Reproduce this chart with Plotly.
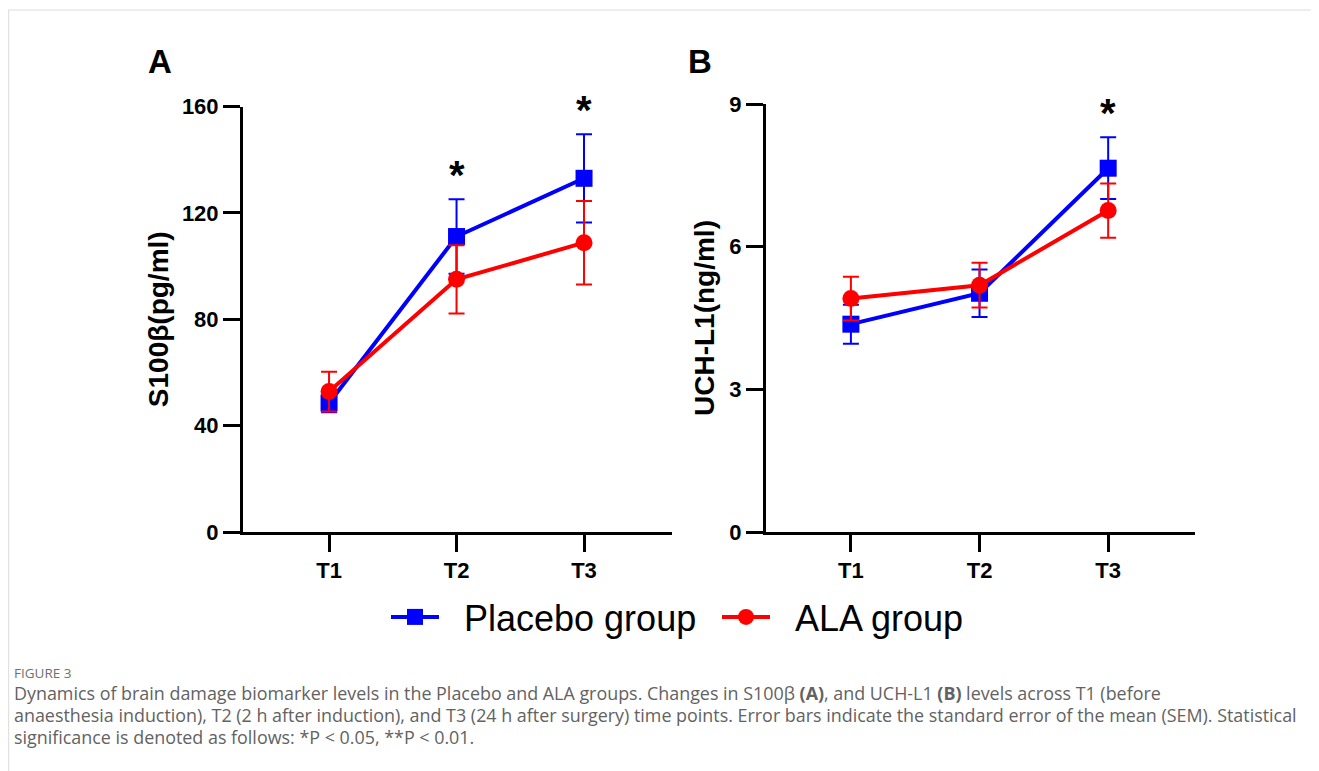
import plotly.graph_objects as go

# ---------------- data ----------------
timepoints = ["T1", "T2", "T3"]

# Panel A: S100β (pg/ml)
s100_placebo = [48.5, 111.1, 133.0]
s100_placebo_sem = [3.5, 14.0, 16.6]
s100_ala = [52.8, 95.0, 108.8]
s100_ala_sem = [7.5, 12.8, 15.7]
s100_sig = [None, "*", "*"]

# Panel B: UCH-L1 (ng/ml)
uch_placebo = [4.37, 5.02, 7.65]
uch_placebo_sem = [0.41, 0.50, 0.65]
uch_ala = [4.91, 5.19, 6.76]
uch_ala_sem = [0.46, 0.47, 0.57]
uch_sig = [None, None, "*"]

y_ticks_a = [0, 40, 80, 120, 160]
y_ticks_b = [0, 3, 6, 9]

series_names = ["Placebo group", "ALA group"]
BLUE = "#0000FF"
RED = "#FF0000"

# page is 1319x771 with an 8px body margin around the figure
OFF = 8
W, H = 1319 - OFF, 771 - OFF
FONT = "Arial, Liberation Sans, sans-serif"


def px_x(p):
    return (p - OFF) / W


def px_y(p):
    return (H - (p - OFF)) / H


fig = go.Figure()


def add_series(xa, ya, y, sem, name, color, symbol, show):
    fig.add_trace(go.Scatter(
        x=timepoints, y=y, name="\u00a0\u00a0" + name, mode="lines+markers",
        xaxis=xa, yaxis=ya, showlegend=show, legendgroup=name,
        line=dict(color=color, width=4),
        marker=dict(color=color, size=17, symbol=symbol),
        error_y=dict(type="data", array=sem, visible=True, color=color,
                     thickness=2, width=8),
        cliponaxis=False,
    ))


add_series("x", "y", s100_placebo, s100_placebo_sem, series_names[0], BLUE, "square", True)
add_series("x", "y", s100_ala, s100_ala_sem, series_names[1], RED, "circle", True)
add_series("x2", "y2", uch_placebo, uch_placebo_sem, series_names[0], BLUE, "square", False)
add_series("x2", "y2", uch_ala, uch_ala_sem, series_names[1], RED, "circle", False)

axis_common = dict(
    showline=True, linewidth=3, linecolor="black",
    ticks="outside", ticklen=17, tickwidth=3, tickcolor="black",
    showgrid=False, zeroline=False, automargin=False,
    tickfont=dict(family=FONT, size=22, color="black", weight="bold"),
)

fig.update_layout(
    width=W, height=H, autosize=False,
    margin=dict(l=0, r=0, t=0, b=0, pad=0, autoexpand=False),
    paper_bgcolor="white", plot_bgcolor="white",
    xaxis=dict(domain=[px_x(243), px_x(672)], anchor="y", type="category",
               range=[-0.675, 2.69], **axis_common),
    yaxis=dict(domain=[px_y(532), px_y(106.5)], anchor="x", range=[0, 160],
               tickvals=y_ticks_a,
               title=dict(text="S100β(pg/ml)", standoff=6,
                          font=dict(family=FONT, size=28, color="black", weight="bold")),
               **axis_common),
    xaxis2=dict(domain=[px_x(766), px_x(1195)], anchor="y2", type="category",
                range=[-0.66, 2.675], **axis_common),
    yaxis2=dict(domain=[px_y(532), px_y(104)], anchor="x2", range=[0, 9],
                tickvals=y_ticks_b,
                title=dict(text="UCH-L1(ng/ml)", standoff=7,
                           font=dict(family=FONT, size=28, color="black", weight="bold")),
                **axis_common),
    legend=dict(orientation="h", x=px_x(386), xanchor="left",
                y=px_y(617), yanchor="middle",
                itemwidth=48, entrywidth=268, entrywidthmode="pixels",
                font=dict(family=FONT, size=36, color="black"),
                bgcolor="rgba(0,0,0,0)"),
)

annotations = []
# significance stars placed above upper error bar
for xa, ya, means, sems, sig in [("x", "y", s100_placebo, s100_placebo_sem, s100_sig),
                                  ("x2", "y2", uch_placebo, uch_placebo_sem, uch_sig)]:
    for t, m, s, g in zip(timepoints, means, sems, sig):
        if g:
            annotations.append(dict(x=t, y=m + s, xref=xa, yref=ya, text=g,
                                    showarrow=False, yanchor="middle", yshift=24,
                                    font=dict(family=FONT, size=40, color="black", weight="bold")))

# panel letters
annotations.append(dict(x=px_x(160), y=px_y(62), xref="paper", yref="paper", text="A",
                        showarrow=False, xanchor="center", yanchor="middle",
                        font=dict(family=FONT, size=33, color="black", weight="bold")))
annotations.append(dict(x=px_x(700), y=px_y(62), xref="paper", yref="paper", text="B",
                        showarrow=False, xanchor="center", yanchor="middle",
                        font=dict(family=FONT, size=33, color="black", weight="bold")))

# caption
CAP_FONT = "Open Sans, Noto Sans, sans-serif"
annotations.append(dict(x=px_x(12), y=px_y(673), xref="paper", yref="paper",
                        text="FIGURE 3", showarrow=False, xanchor="left", yanchor="middle",
                        font=dict(family=CAP_FONT, size=13.5, color="#707070")))
caption_lines = [
    "Dynamics of brain damage biomarker levels in the Placebo and ALA groups. Changes in S100β <b>(A)</b>, and UCH-L1 <b>(B)</b> levels across T1 (before",
    "anaesthesia induction), T2 (2 h after induction), and T3 (24 h after surgery) time points. Error bars indicate the standard error of the mean (SEM). Statistical",
    "significance is denoted as follows: *P &lt; 0.05, **P &lt; 0.01.",
]
for i, line in enumerate(caption_lines):
    annotations.append(dict(x=px_x(12), y=px_y(693 + 22 * i), xref="paper", yref="paper",
                            text=line, showarrow=False, xanchor="left", yanchor="middle",
                            font=dict(family=CAP_FONT, size=17.9, color="#626262")))

fig.update_layout(annotations=annotations)

# page frame lines
fig.add_shape(type="line", xref="paper", yref="paper", x0=0, x1=1, y0=px_y(10), y1=px_y(10),
              line=dict(color="#dcdcdc", width=1))
fig.add_shape(type="line", xref="paper", yref="paper", x0=0.0005, x1=0.0005, y0=0, y1=px_y(10),
              line=dict(color="#dcdcdc", width=1))

fig.write_html("out.html")
